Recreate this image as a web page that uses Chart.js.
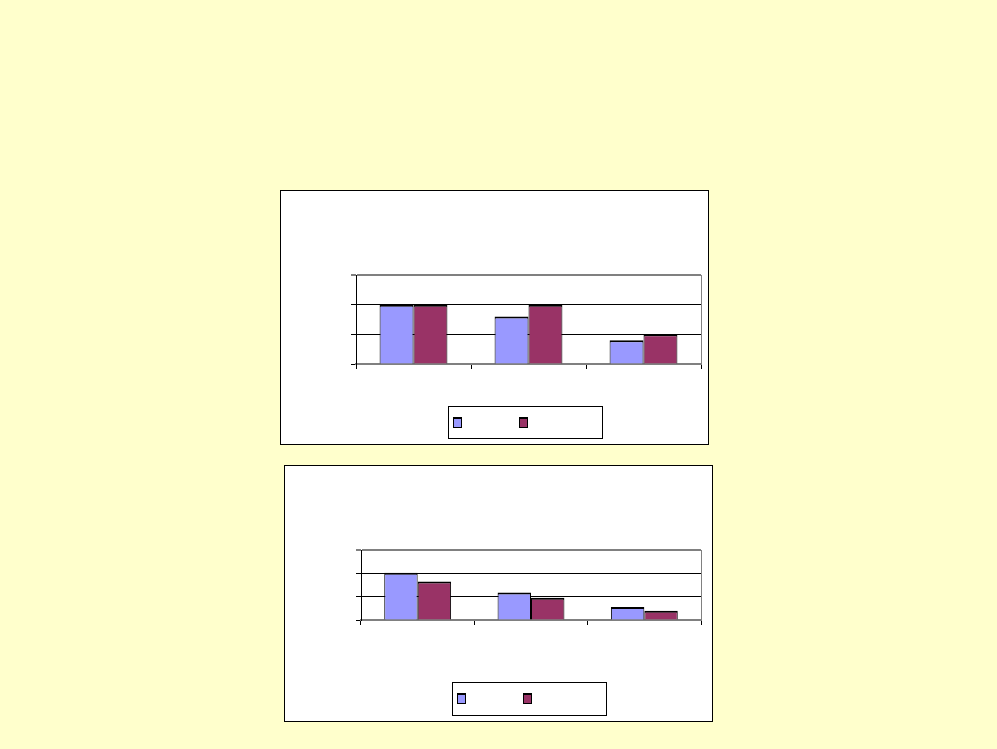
<!DOCTYPE html>
<html lang="en">
<head>
  <meta charset="UTF-8">
  <title>Two bar charts</title>
  <script src="https://cdn.jsdelivr.net/npm/chart.js"></script>
  <style>
    html, body { margin: 0; padding: 0; }
    body { width: 997px; height: 749px; background: #FFFFCC; position: relative; overflow: hidden; font-family: "Liberation Sans", Arial, sans-serif; }
    .panel { position: absolute; background: #fff; border: 1px solid #000; box-sizing: border-box; }
    .panel .wrap { position: absolute; left: 0; top: 0; right: 0; bottom: 0; }
    .legend { position: absolute; background: #fff; border: 1px solid #000; box-sizing: border-box; }
    .swatch { position: absolute; width: 9px; height: 11px; box-sizing: border-box; border: 1px solid #000; border-top-width: 2px; }
  </style>
</head>
<body>

  <!-- top chart -->
  <div class="panel" style="left:280px; top:190px; width:429px; height:255px;">
    <div class="wrap"><canvas id="chartTop"></canvas></div>
  </div>
  <div class="legend" id="legendTop" style="left:448px; top:406px; width:155px; height:33px;"></div>

  <!-- bottom chart -->
  <div class="panel" style="left:284px; top:465px; width:429px; height:257px;">
    <div class="wrap"><canvas id="chartBottom"></canvas></div>
  </div>
  <div class="legend" id="legendBottom" style="left:452px; top:682px; width:155px; height:34px;"></div>

  <script>
    // categories carry no visible text in the original
    const categories = ['', '', ''];
    const seriesNames = ['', ''];
    const seriesColors = ['#9999FF', '#993366'];

    // top chart values
    const topSeriesA = [2.0, 1.6, 0.8];
    const topSeriesB = [2.0, 2.0, 1.0];

    // bottom chart values
    const bottomSeriesA = [2.03, 1.18, 0.56];
    const bottomSeriesB = [1.65, 0.95, 0.4];

    const yTicks = [0, 1, 2, 3];

    // gray frame on the right edge of the plot area
    const plotFrame = {
      id: 'plotFrame',
      afterDraw(chart) {
        const a = chart.chartArea;
        const ctx = chart.ctx;
        ctx.save();
        ctx.strokeStyle = '#808080';
        ctx.lineWidth = 1;
        ctx.beginPath();
        ctx.moveTo(Math.round(a.right) + 0.5, a.top);
        ctx.lineTo(Math.round(a.right) + 0.5, a.bottom);
        ctx.stroke();
        ctx.restore();
      }
    };

    function makeChart(id, seriesA, seriesB, pad) {
      const ctx = document.getElementById(id).getContext('2d');
      return new Chart(ctx, {
        type: 'bar',
        data: {
          labels: categories,
          datasets: [seriesA, seriesB].map((vals, i) => ({
            label: seriesNames[i],
            data: vals,
            backgroundColor: seriesColors[i],
            borderColor: '#000',
            borderWidth: { top: 2, left: 1, right: 1, bottom: 0 },
            borderSkipped: false,
            barPercentage: 1,
            categoryPercentage: 0.59
          }))
        },
        options: {
          responsive: true,
          maintainAspectRatio: false,
          animation: false,
          layout: { padding: pad },
          plugins: {
            legend: { display: false },
            tooltip: { enabled: false }
          },
          scales: {
            x: {
              offset: true,
              afterFit: s => { s.height = 1; },
              ticks: { display: false },
              grid: { offset: true, drawOnChartArea: false, drawTicks: true, tickLength: 5, color: '#000' },
              border: { color: '#808080', width: 2 }
            },
            y: {
              min: yTicks[0],
              max: yTicks[yTicks.length - 1],
              afterBuildTicks: s => { s.ticks = yTicks.map(v => ({ value: v })); },
              afterFit: s => { s.width = 1; },
              ticks: { display: false },
              grid: {
                drawTicks: true,
                tickLength: 5,
                color: c => (c.tick && c.tick.value === yTicks[yTicks.length - 1]) ? '#808080' : '#000',
                lineWidth: c => (c.tick && c.tick.value === yTicks[yTicks.length - 1]) ? 2 : 1
              },
              border: { color: '#000', width: 1 }
            }
          }
        },
        plugins: [plotFrame]
      });
    }

    makeChart('chartTop', topSeriesA, topSeriesB, { left: 74, top: 84, right: 7, bottom: 79 });
    makeChart('chartBottom', bottomSeriesA, bottomSeriesB, { left: 75, top: 84, right: 11, bottom: 100 });

    // legend boxes: swatch per series, labels are blank
    function makeLegend(id) {
      const box = document.getElementById(id);
      seriesColors.forEach((col, i) => {
        const sw = document.createElement('div');
        sw.className = 'swatch';
        sw.style.background = col;
        sw.style.left = (4 + i * 66) + 'px';
        sw.style.top = '10px';
        sw.title = seriesNames[i];
        box.appendChild(sw);
      });
    }
    makeLegend('legendTop');
    makeLegend('legendBottom');
  </script>
</body>
</html>
